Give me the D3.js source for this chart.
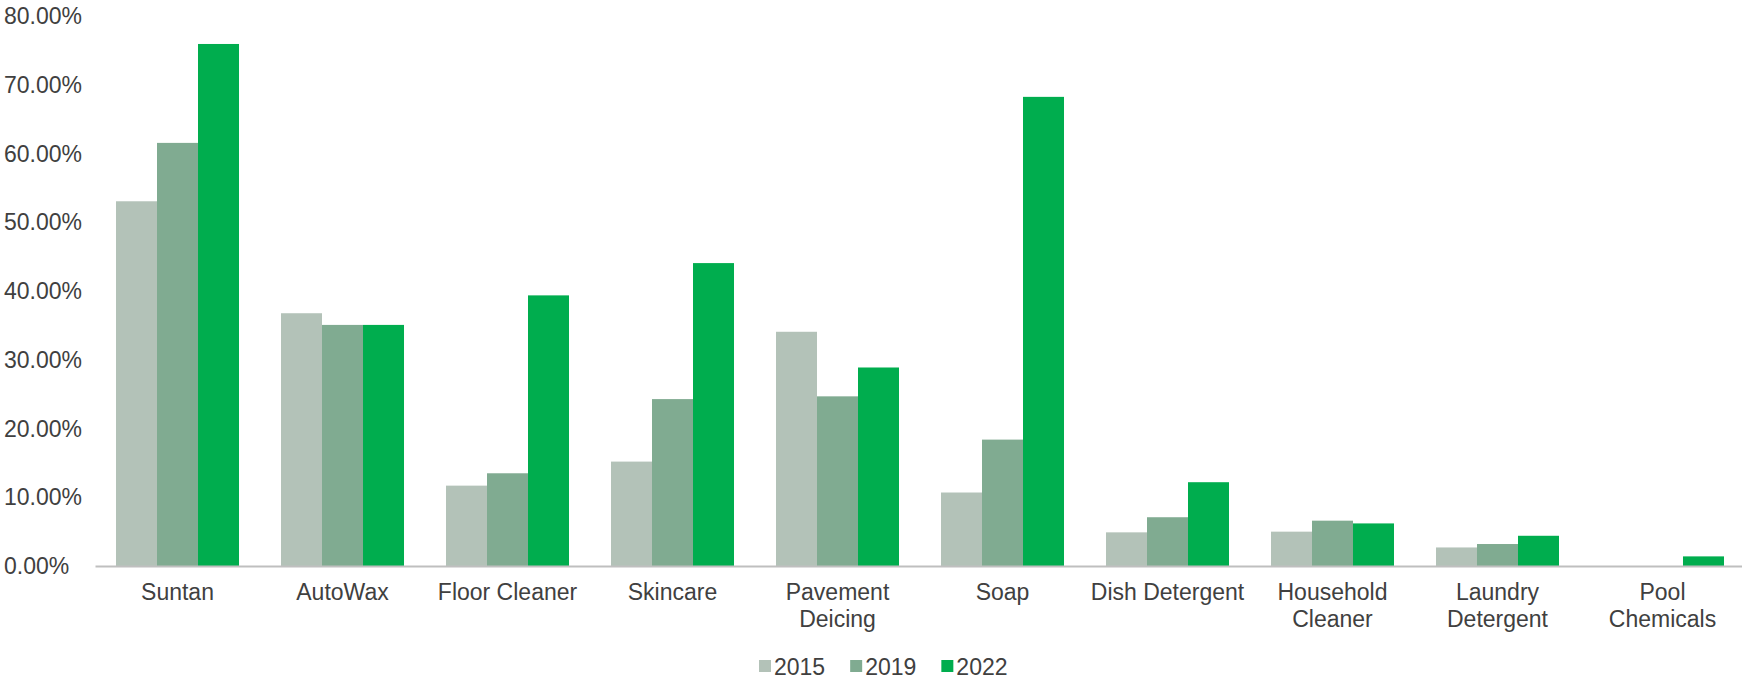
<!DOCTYPE html>
<html>
<head>
<meta charset="utf-8">
<script src="https://cdn.jsdelivr.net/npm/d3@7"></script>
<style>
  body { margin: 0; background: #fff; }
  text { font-family: "Liberation Sans", Arial, sans-serif; }
</style>
</head>
<body>
<script>
// data (percent)
var categories = ["Suntan", "AutoWax", "Floor Cleaner", "Skincare", "Pavement Deicing",
  "Soap", "Dish Detergent", "Household Cleaner", "Laundry Detergent", "Pool Chemicals"];
var years = ["2015", "2019", "2022"];
var v2015 = [53.1, 36.8, 11.7, 15.2, 34.1, 10.7, 4.9, 5.0, 2.7, 0];
var v2019 = [61.6, 35.1, 13.5, 24.3, 24.7, 18.4, 7.1, 6.6, 3.2, 0];
var v2022 = [76.0, 35.1, 39.4, 44.1, 28.9, 68.3, 12.2, 6.2, 4.4, 1.4];
var yTicks = [0, 10, 20, 30, 40, 50, 60, 70, 80];
var colors = ["#b3c2b8", "#80ab91", "#00ad4e"];

var series = [v2015, v2019, v2022];

var width = 1742, height = 679;

var svg = d3.select("body")
  .append("svg")
  .attr("width", width)
  .attr("height", height);

var x = d3.scaleBand()
  .domain(categories)
  .range([95, 1745])
  .paddingInner(0.2545)
  .paddingOuter(0.1273);

var xIn = d3.scaleBand()
  .domain(years)
  .range([0, x.bandwidth()]);

var y = d3.scaleLinear()
  .domain([0, 80])
  .range([566, 16.5]);

var color = d3.scaleOrdinal().domain(years).range(colors);

// y axis, labels left aligned, no lines
var yAxis = svg.append("g")
  .attr("transform", "translate(4,0)")
  .call(d3.axisLeft(y).tickValues(yTicks).tickSize(0).tickPadding(0)
    .tickFormat(function(d) { return d3.format(".2f")(d) + "%"; }));
yAxis.select(".domain").remove();
yAxis.selectAll("text")
  .attr("text-anchor", "start")
  .attr("x", 0)
  .style("font-size", "23px")
  .style("fill", "#404040");

// bars
var groups = svg.append("g")
  .selectAll("g")
  .data(categories)
  .join("g")
  .attr("transform", function(d) { return "translate(" + x(d) + ",0)"; });

groups.selectAll("rect")
  .data(function(d, i) {
    return years.map(function(yr, k) { return { year: yr, value: series[k][i] }; });
  })
  .join("rect")
  .attr("x", function(d) { return xIn(d.year); })
  .attr("width", xIn.bandwidth())
  .attr("y", function(d) { return y(d.value); })
  .attr("height", function(d) { return y(0) - y(d.value); })
  .style("fill", function(d) { return color(d.year); });

// x axis
var xAxis = svg.append("g")
  .attr("transform", "translate(0," + y(0) + ")")
  .call(d3.axisBottom(x).tickSize(0).tickSizeOuter(0).tickFormat(""));
xAxis.select(".domain")
  .style("stroke", "#bfbfbf")
  .style("stroke-width", 2);

// category labels, wrapped when wider than ~156px
var maxLine = 156;
xAxis.selectAll(".tick text").remove();
xAxis.selectAll(".tick").each(function(d) {
  var t = d3.select(this).append("text")
    .attr("text-anchor", "middle")
    .attr("y", 34)
    .style("font-size", "23px")
    .style("fill", "#404040");
  var words = d.split(" ");
  var line = [];
  var tspan = t.append("tspan").attr("x", 0).attr("dy", 0);
  words.forEach(function(w) {
    line.push(w);
    tspan.text(line.join(" "));
    if (tspan.node().getComputedTextLength() > maxLine && line.length > 1) {
      line.pop();
      tspan.text(line.join(" "));
      line = [w];
      tspan = t.append("tspan").attr("x", 0).attr("dy", 27).text(w);
    }
  });
});

// legend
var legend = svg.append("g").attr("transform", "translate(759,0)");
var lx = 0;
years.forEach(function(yr) {
  legend.append("rect")
    .attr("x", lx)
    .attr("y", 660)
    .attr("width", 12)
    .attr("height", 12)
    .style("fill", color(yr));
  var t = legend.append("text")
    .attr("x", lx + 15)
    .attr("y", 675)
    .style("font-size", "23px")
    .style("fill", "#404040")
    .text(yr);
  lx += 15 + t.node().getComputedTextLength() + 25;
});
</script>
</body>
</html>
